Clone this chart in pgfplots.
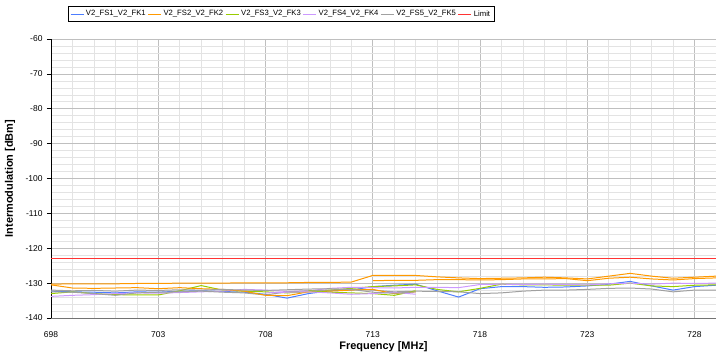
\documentclass[border=0pt]{standalone}
\usepackage{pgfplots}
\pgfplotsset{compat=1.18}
\usepackage{fontspec}
\setmainfont{Liberation Sans}
\definecolor{cBlue}{HTML}{4C7DFF}
\definecolor{cOrange}{HTML}{FF9900}
\definecolor{cGreen}{HTML}{99CC00}
\definecolor{cPurple}{HTML}{CC99FF}
\definecolor{cGray}{HTML}{A0A0A0}
\definecolor{cRed}{HTML}{FF3333}
\begin{document}
\begin{tikzpicture}
\path[use as bounding box] (-51bp,-39bp) rectangle (665bp,318bp);
\begin{axis}[
  at={(0,0)}, anchor=south west,
  scale only axis, width=665bp, height=279bp,
  xmin=698, xmax=729, ymin=-140, ymax=-60,
  xtick={698,703,...,728}, minor xtick={698,...,729},
  ytick={-140,-130,...,-60}, minor ytick={-140,-138,...,-60},
  grid=both,
  major grid style={color=black!25, line width=0.7pt},
  minor grid style={color=black!11, line width=0.6pt},
  axis x line*=bottom, axis y line*=left,
  x axis line style={-, color=black!55, line width=1pt},
  y axis line style={-, color=black, line width=1pt},
  xtick style={draw=none},
  ytick style={color=black, line width=0.7pt},
  minor tick length=0pt, major tick length=4bp,
  tick align=outside,
  tick label style={font=\fontsize{8.5}{10}\selectfont},
  /pgf/number format/assume math mode=true,
  /pgf/number format/1000 sep={},
  xticklabel style={yshift=-6bp},
  yticklabel style={xshift=-1bp},
  xlabel={Frequency [MHz]}, ylabel={Intermodulation [dBm]},
  label style={font=\fontsize{11}{13}\selectfont\bfseries},
  xlabel style={at={(axis description cs:0.5,-0.104)}, anchor=center},
  ylabel style={at={(axis description cs:-0.0617,0.5)}, anchor=center, rotate=0},
  legend style={at={(axis description cs:0.346,1.061)}, anchor=south,
    legend columns=6, draw=black, line width=0.8pt, inner sep=2bp,
    font=\fontsize{7.7}{9.5}\selectfont,
    /tikz/every even column/.append style={column sep=0bp}},
  legend image code/.code={\draw[#1,line width=0.9pt] (0bp,0bp) -- (13bp,0bp);},
  every axis plot/.append style={line width=1pt},
]
% main series
\addplot[color=cBlue] coordinates {(698,-132.3)(699,-132.5)(700,-132.6)(701,-132.8)(702,-132.5)(703,-132.6)(704,-132.3)(705,-132.2)(706,-132.4)(707,-132.6)(708,-133.2)(709,-134.3)(710,-133.0)(711,-132.2)(712,-132.0)(713,-131.0)(714,-130.6)(715,-130.3)(716,-132.2)(717,-134.0)(718,-131.6)(719,-131.0)(720,-131.0)(721,-131.2)(722,-131.1)(723,-130.8)(724,-130.3)(725,-129.5)(726,-130.8)(727,-132.0)(728,-131.0)(729,-130.6)};
\addlegendentry{V2\_FS1\_V2\_FK1}
\addplot[color=cOrange] coordinates {(698,-130.3)(699,-130.2)(700,-130.2)(701,-130.2)(702,-130.1)(703,-130.1)(704,-130.0)(705,-130.0)(706,-130.0)(707,-129.9)(708,-129.9)(709,-129.9)(710,-129.8)(711,-129.8)(712,-129.7)(713,-127.8)(714,-127.8)(715,-127.8)(716,-128.2)(717,-128.5)(718,-128.7)(719,-128.6)(720,-128.5)(721,-128.3)(722,-128.5)(723,-128.8)(724,-128.0)(725,-127.2)(726,-128.0)(727,-128.6)(728,-128.3)(729,-128.0)};
\addlegendentry{V2\_FS2\_V2\_FK2}
\addplot[color=cGreen] coordinates {(698,-133.0)(699,-132.5)(700,-133.0)(701,-133.3)(702,-133.4)(703,-133.4)(704,-132.2)(705,-130.7)(706,-132.0)(707,-132.3)(708,-132.5)(709,-132.8)(710,-132.5)(711,-132.0)(712,-131.5)(713,-131.0)(714,-130.8)(715,-130.5)(716,-131.8)(717,-132.5)(718,-131.5)(719,-130.3)(720,-130.5)(721,-130.5)(722,-130.6)(723,-130.6)(724,-130.6)(725,-130.0)(726,-130.8)(727,-131.0)(728,-130.6)(729,-130.5)};
\addlegendentry{V2\_FS3\_V2\_FK3}
\addplot[color=cPurple] coordinates {(698,-133.8)(699,-133.5)(700,-133.3)(701,-133.0)(702,-132.8)(703,-132.9)(704,-132.7)(705,-132.5)(706,-132.3)(707,-131.8)(708,-132.0)(709,-132.4)(710,-132.2)(711,-131.5)(712,-131.2)(713,-131.3)(714,-131.4)(715,-131.2)(716,-131.2)(717,-131.3)(718,-130.4)(719,-130.3)(720,-130.4)(721,-130.3)(722,-130.4)(723,-130.5)(724,-130.2)(725,-130.0)(726,-130.3)(727,-130.0)(728,-130.1)(729,-130.0)};
\addlegendentry{V2\_FS4\_V2\_FK4}
\addplot[color=cGray] coordinates {(698,-132.5)(699,-132.6)(700,-133.0)(701,-133.5)(702,-132.8)(703,-132.6)(704,-132.5)(705,-132.3)(706,-132.6)(707,-132.8)(708,-133.4)(709,-132.5)(710,-132.2)(711,-132.0)(712,-131.8)(713,-132.0)(714,-132.5)(715,-132.3)(716,-132.4)(717,-132.5)(718,-133.0)(719,-132.8)(720,-132.3)(721,-132.0)(722,-132.0)(723,-131.8)(724,-131.5)(725,-131.4)(726,-131.7)(727,-132.5)(728,-132.0)(729,-132.0)};
\addlegendentry{V2\_FS5\_V2\_FK5}
\addplot[color=cRed] coordinates {(698,-123)(729,-123)};
\addlegendentry{Limit}
% secondary sweeps
\addplot[color=cOrange, forget plot] coordinates {(698,-130.5)(699,-131.4)(700,-131.5)(701,-131.4)(702,-131.3)(703,-131.6)(704,-131.3)(705,-131.6)(706,-131.8)(707,-132.3)(708,-133.5)(709,-133.6)(710,-132.5)(711,-132.3)(712,-132.0)(713,-131.8)(714,-133.0)(715,-132.5)};
\addplot[color=cOrange, forget plot] coordinates {(713,-129.3)(714,-129.2)(715,-129.2)(716,-129.0)(717,-129.0)(718,-129.1)(719,-129.0)(720,-128.8)(721,-128.8)(722,-128.7)(723,-129.3)(724,-128.6)(725,-128.3)(726,-128.8)(727,-129.1)(728,-128.7)(729,-128.5)};
\addplot[color=cGreen, forget plot] coordinates {(710,-132.2)(711,-132.6)(712,-132.8)(713,-133.0)(714,-133.5)(715,-132.2)};
\addplot[color=cPurple, forget plot] coordinates {(708,-132.8)(709,-132.6)(710,-132.5)(711,-132.8)(712,-133.2)(713,-133.0)(714,-132.6)(715,-133.2)};
\addplot[color=cGray, forget plot] coordinates {(698,-132.0)(699,-132.2)(700,-132.1)(701,-132.3)(702,-132.0)(703,-132.1)(704,-131.9)(705,-132.0)(706,-131.8)(707,-132.0)(708,-132.1)(709,-131.9)(710,-131.7)(711,-131.6)(712,-131.8)(713,-132.6)(714,-132.9)(715,-132.5)};
\end{axis}
\end{tikzpicture}
\end{document}
